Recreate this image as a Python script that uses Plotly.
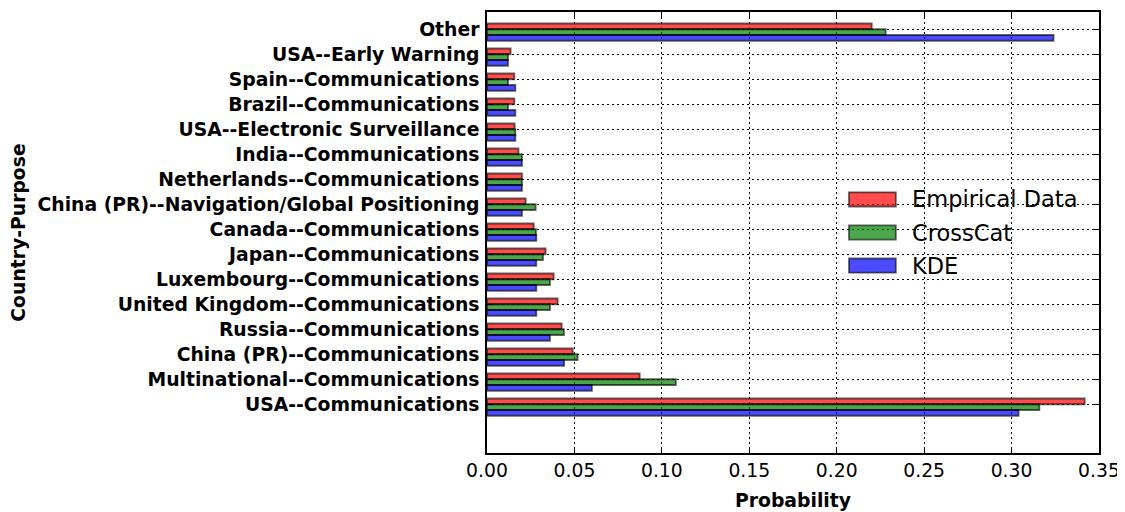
import plotly.graph_objects as go

# Categories listed top to bottom as in the chart
categories = [
    "Other",
    "USA--Early Warning",
    "Spain--Communications",
    "Brazil--Communications",
    "USA--Electronic Surveillance",
    "India--Communications",
    "Netherlands--Communications",
    "China (PR)--Navigation/Global Positioning",
    "Canada--Communications",
    "Japan--Communications",
    "Luxembourg--Communications",
    "United Kingdom--Communications",
    "Russia--Communications",
    "China (PR)--Communications",
    "Multinational--Communications",
    "USA--Communications",
]
empirical = [0.220, 0.0135, 0.0156, 0.0156, 0.0158, 0.018, 0.020, 0.0221,
             0.0267, 0.0335, 0.0381, 0.0404, 0.0427, 0.049, 0.0873, 0.3418]
crosscat = [0.228, 0.012, 0.012, 0.012, 0.0162, 0.020, 0.020, 0.0278,
            0.028, 0.032, 0.036, 0.036, 0.044, 0.0518, 0.108, 0.3159]
kde = [0.324, 0.012, 0.0162, 0.0162, 0.0162, 0.020, 0.020, 0.020,
       0.0282, 0.0282, 0.0282, 0.0282, 0.036, 0.0441, 0.060, 0.304]
series_names = ["Empirical Data", "CrossCat", "KDE"]
x_ticks = [0.00, 0.05, 0.10, 0.15, 0.20, 0.25, 0.30, 0.35]

FONT = "DejaVu Sans"
colors = ["rgba(255,0,0,0.7)", "rgba(0,128,0,0.7)", "rgba(0,0,255,0.7)"]
edge = "rgba(0,0,0,0.6)"
h = 0.23
offsets = [0.0, -h, -2 * h]

n = len(categories)
pos = [n - 1 - i for i in range(n)]

fig = go.Figure()
for name, vals, col, off in zip(series_names, [empirical, crosscat, kde], colors, offsets):
    fig.add_trace(go.Bar(
        x=vals, y=pos, orientation="h", width=h, offset=off, name=name,
        marker=dict(color=col, line=dict(color=edge, width=1.8)),
        showlegend=False,
    ))

axis_common = dict(
    showline=True, linecolor="black", linewidth=1.5, mirror="ticks",
    ticks="inside", ticklen=6, tickwidth=1, tickcolor="black",
    showgrid=True, gridcolor="black", gridwidth=1, griddash="1.5px,3.5px",
    zeroline=False,
)

fig.update_layout(
    width=1117, height=504,
    margin=dict(l=479, r=26, t=4, b=59),
    paper_bgcolor="white", plot_bgcolor="white",
    barmode="overlay",
    font=dict(family=FONT, color="black"),
    xaxis=dict(
        range=[0, 0.35], tickvals=x_ticks, tickformat=".2f",
        tickfont=dict(family=FONT, size=18.8, color="black"),
        title=dict(text="Probability", font=dict(family=FONT, size=18.8, weight="bold"), standoff=14),
        automargin=False,
        **axis_common,
    ),
    yaxis=dict(
        range=[-1.95, 15.69], tickvals=pos, ticktext=categories,
        tickfont=dict(family=FONT, size=18.8, color="black", weight="bold"),
        ticklabelstandoff=2,
        title=dict(text="Country-Purpose", font=dict(family=FONT, size=18.8, weight="bold"), standoff=8),
        automargin=False,
        **axis_common,
    ),
)

# Legend drawn as patches + text (matplotlib style, no frame)
leg_x0, leg_x1, txt_x = 0.5915, 0.668, 0.691
row_y = [0.575, 0.500, 0.425]
ph = 0.016
for name, col, yc in zip(series_names, colors, row_y):
    fig.add_shape(type="rect", xref="paper", yref="paper",
                  x0=leg_x0, x1=leg_x1, y0=yc - ph, y1=yc + ph,
                  fillcolor=col, line=dict(color=edge, width=1.8))
    fig.add_annotation(xref="paper", yref="paper", x=txt_x, y=yc, text=name,
                       showarrow=False, xanchor="left", yanchor="middle",
                       font=dict(family=FONT, size=22.5, color="black"))

fig.write_html("out.html")
